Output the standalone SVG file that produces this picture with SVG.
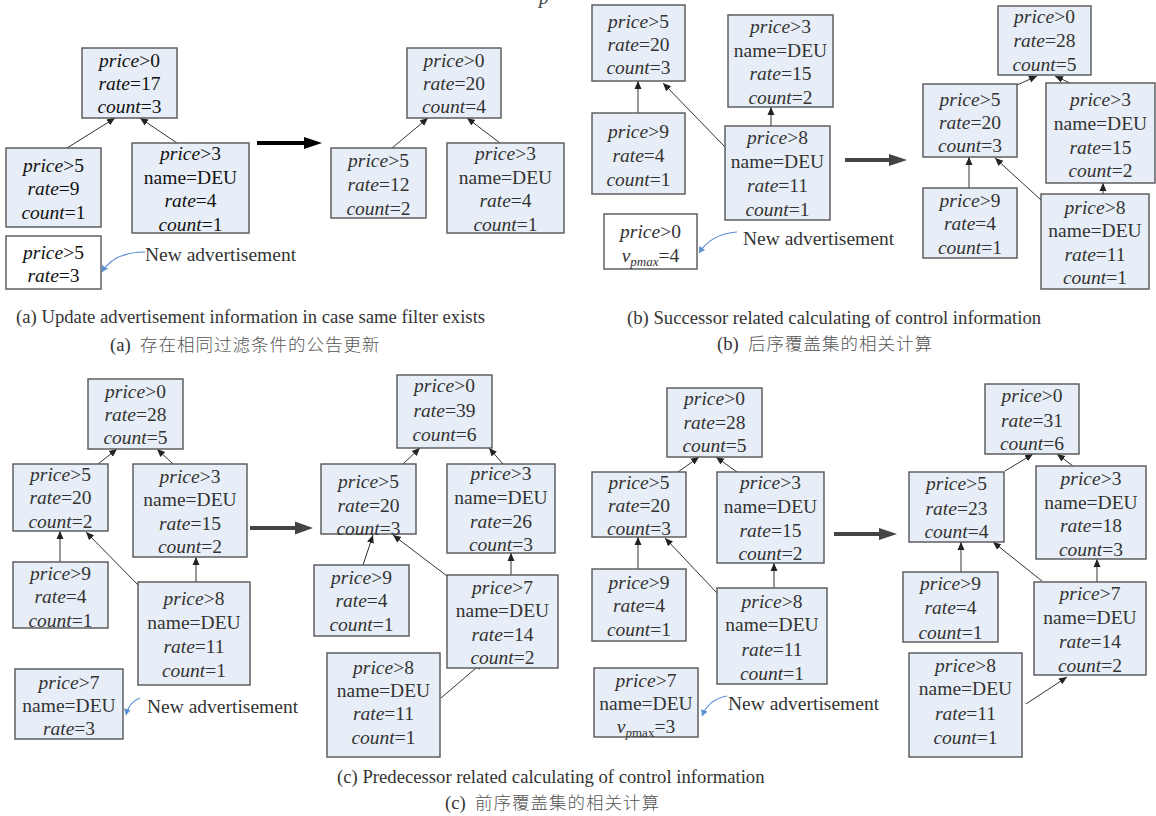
<svg xmlns="http://www.w3.org/2000/svg" width="1156" height="816" viewBox="0 0 1156 816">
<style>
.n rect{fill:#e8eef7;stroke:#555;stroke-width:1.4}
.w rect{fill:#fff;stroke:#555;stroke-width:1.4}
text{font-family:"Liberation Serif","Times New Roman",serif}
.n text,.w text{font-size:19.5px;text-anchor:middle;fill:#333}
.k text{fill:#111}
.i{font-style:italic}
.lbl{font-size:19.5px;fill:#333}
.cap{font-size:18.7px;fill:#333}
.cjk{font-family:"Noto Sans CJK SC",sans-serif;font-size:17.5px;font-weight:300;letter-spacing:1px;fill:#555}
.c line{stroke:#333;stroke-width:1;marker-end:url(#ah)}
.b path{fill:none;stroke:#5b8fd4;stroke-width:1.2;marker-end:url(#bh)}
</style>
<defs>
<marker id="ah" markerUnits="userSpaceOnUse" markerWidth="10" markerHeight="8" refX="8" refY="4" orient="auto"><path d="M0,0.5 L8,4 L0,7.5 Z" fill="#222"/></marker>
<marker id="bh" markerUnits="userSpaceOnUse" markerWidth="8" markerHeight="8" refX="6" refY="3.5" orient="auto"><path d="M0,0 L6,3.5 L0,7 Z" fill="#5b8fd4"/></marker>
</defs>
<rect width="1156" height="816" fill="#fff"/>
<text x="539" y="4" class="i" font-size="19.5" fill="#444">p</text>

<!-- connectors -->
<g id="connectors">
<g class="c">
<line x1="67" y1="148" x2="115" y2="118"/>
<line x1="177" y1="143" x2="140" y2="118"/>
<line x1="392" y1="148" x2="428" y2="118"/>
<line x1="500" y1="143" x2="467" y2="118"/>
<line x1="638" y1="113" x2="638" y2="81"/>
<line x1="725" y1="147" x2="663" y2="83"/>
<line x1="771" y1="126" x2="771" y2="107"/>
<line x1="1017" y1="85" x2="1037" y2="76"/>
<line x1="1070" y1="83" x2="1055" y2="76"/>
<line x1="969" y1="188" x2="969" y2="157"/>
<line x1="1041" y1="200" x2="995" y2="158"/>
<line x1="1103" y1="194" x2="1103" y2="183"/>
<line x1="98" y1="464" x2="117" y2="449"/>
<line x1="173" y1="464" x2="157" y2="449"/>
<line x1="60" y1="562" x2="60" y2="531"/>
<line x1="138" y1="585" x2="86" y2="532"/>
<line x1="196" y1="582" x2="196" y2="557"/>
<line x1="403" y1="464" x2="420" y2="448"/>
<line x1="503" y1="464" x2="489" y2="448"/>
<line x1="363" y1="565" x2="373" y2="535"/>
<line x1="447" y1="576" x2="393" y2="535"/>
<line x1="511" y1="575" x2="511" y2="553"/>
<line x1="441" y1="698" x2="483" y2="662"/>
<line x1="678" y1="472" x2="699" y2="457"/>
<line x1="737" y1="472" x2="716" y2="457"/>
<line x1="638" y1="569" x2="638" y2="537"/>
<line x1="717" y1="593" x2="665" y2="538"/>
<line x1="774" y1="588" x2="774" y2="563"/>
<line x1="1005" y1="471" x2="1033" y2="454"/>
<line x1="1073" y1="466" x2="1057" y2="454"/>
<line x1="961" y1="572" x2="961" y2="542"/>
<line x1="1042" y1="581" x2="993" y2="542"/>
<line x1="1097" y1="582" x2="1097" y2="559"/>
<line x1="1026" y1="704" x2="1067" y2="677"/>
</g>
<g class="b">
<path d="M145,252 Q114,252 102,272"/>
<path d="M737,232 Q711,234 699,253"/>
<path d="M140,698 Q129,702 126,715"/>
<path d="M727,696 Q709,699 702,716"/>
</g>
<g id="bigarrows">
<line x1="257" y1="143" x2="305" y2="143" stroke="#000" stroke-width="4"/>
<polygon points="304,137 322,143 304,149" fill="#000"/>
<line x1="845" y1="160" x2="890" y2="160" stroke="#444" stroke-width="4"/>
<polygon points="889,154 907,160 889,166" fill="#444"/>
<line x1="250" y1="528" x2="296" y2="528" stroke="#444" stroke-width="4"/>
<polygon points="295,521.5 313,528 295,534.5" fill="#444"/>
<line x1="834" y1="534" x2="880" y2="534" stroke="#444" stroke-width="4"/>
<polygon points="879,528 897,534 879,540" fill="#444"/>
</g>
</g>

<!-- panel (a) -->
<g id="a1" class="n k"><rect x="82" y="48" width="95" height="70"/>
<text x="129.5" y="67"><tspan class="i">price</tspan>&gt;0</text>
<text x="129.5" y="90"><tspan class="i">rate</tspan>=17</text>
<text x="129.5" y="113"><tspan class="i">count</tspan>=3</text></g>
<g id="a2" class="n k"><rect x="6" y="148" width="95" height="79"/>
<text x="53.5" y="172"><tspan class="i">price</tspan>&gt;5</text>
<text x="53.5" y="195"><tspan class="i">rate</tspan>=9</text>
<text x="53.5" y="219"><tspan class="i">count</tspan>=1</text></g>
<g id="a3" class="n k"><rect x="132" y="143" width="117" height="90"/>
<text x="190.5" y="160"><tspan class="i">price</tspan>&gt;3</text>
<text x="190.5" y="184">name=DEU</text>
<text x="190.5" y="207"><tspan class="i">rate</tspan>=4</text>
<text x="190.5" y="231"><tspan class="i">count</tspan>=1</text></g>
<g id="a4" class="w k"><rect x="6" y="236" width="95" height="53"/>
<text x="53.5" y="259"><tspan class="i">price</tspan>&gt;5</text>
<text x="53.5" y="282"><tspan class="i">rate</tspan>=3</text></g>
<text class="lbl" x="145" y="261" fill="#222">New advertisement</text>
<g id="a5" class="n"><rect x="407" y="48" width="94" height="70"/>
<text x="454" y="67"><tspan class="i">price</tspan>&gt;0</text>
<text x="454" y="90"><tspan class="i">rate</tspan>=20</text>
<text x="454" y="113"><tspan class="i">count</tspan>=4</text></g>
<g id="a6" class="n"><rect x="331" y="148" width="95" height="70"/>
<text x="378.5" y="167"><tspan class="i">price</tspan>&gt;5</text>
<text x="378.5" y="191"><tspan class="i">rate</tspan>=12</text>
<text x="378.5" y="215"><tspan class="i">count</tspan>=2</text></g>
<g id="a7" class="n"><rect x="447" y="143" width="117" height="90"/>
<text x="505.5" y="160"><tspan class="i">price</tspan>&gt;3</text>
<text x="505.5" y="184">name=DEU</text>
<text x="505.5" y="207"><tspan class="i">rate</tspan>=4</text>
<text x="505.5" y="231"><tspan class="i">count</tspan>=1</text></g>
<text class="cap" x="16" y="323">(a) Update advertisement information in case same filter exists</text>
<text class="cap" x="110" y="351">(a)<tspan class="cjk" x="140">存在相同过滤条件的公告更新</tspan></text>

<!-- panel (b) -->
<g id="b1" class="n"><rect x="592" y="5" width="93" height="76"/>
<text x="638.5" y="28" fill="#111"><tspan class="i">price</tspan>&gt;5</text>
<text x="638.5" y="51" fill="#111"><tspan class="i">rate</tspan>=20</text>
<text x="638.5" y="74"><tspan class="i">count</tspan>=3</text></g>
<g id="b2" class="n"><rect x="728" y="15" width="105" height="92"/>
<text x="780.5" y="33"><tspan class="i">price</tspan>&gt;3</text>
<text x="780.5" y="57">name=DEU</text>
<text x="780.5" y="80"><tspan class="i">rate</tspan>=15</text>
<text x="780.5" y="104"><tspan class="i">count</tspan>=2</text></g>
<g id="b3" class="n"><rect x="592" y="113" width="93" height="81"/>
<text x="638.5" y="138"><tspan class="i">price</tspan>&gt;9</text>
<text x="638.5" y="162"><tspan class="i">rate</tspan>=4</text>
<text x="638.5" y="186"><tspan class="i">count</tspan>=1</text></g>
<g id="b4" class="n"><rect x="725" y="126" width="105" height="94"/>
<text x="777.5" y="144"><tspan class="i">price</tspan>&gt;8</text>
<text x="777.5" y="168">name=DEU</text>
<text x="777.5" y="192"><tspan class="i">rate</tspan>=11</text>
<text x="777.5" y="216"><tspan class="i">count</tspan>=1</text></g>
<g id="b5" class="w"><rect x="604" y="214" width="93" height="55"/>
<text x="650.5" y="238"><tspan class="i">price</tspan>&gt;0</text>
<text x="650.5" y="262"><tspan class="i">v</tspan><tspan class="i" font-size="13" dy="4">pmax</tspan><tspan dy="-4">=4</tspan></text></g>
<text class="lbl" x="743" y="245">New advertisement</text>
<g id="b6" class="n"><rect x="998" y="6" width="93" height="69"/>
<text x="1044.5" y="23"><tspan class="i">price</tspan>&gt;0</text>
<text x="1044.5" y="47"><tspan class="i">rate</tspan>=28</text>
<text x="1044.5" y="71"><tspan class="i">count</tspan>=5</text></g>
<g id="b7" class="n"><rect x="923" y="84" width="94" height="73"/>
<text x="970" y="106"><tspan class="i">price</tspan>&gt;5</text>
<text x="970" y="129"><tspan class="i">rate</tspan>=20</text>
<text x="970" y="152"><tspan class="i">count</tspan>=3</text></g>
<g id="b8" class="n"><rect x="1046" y="83" width="109" height="100"/>
<text x="1100.5" y="106"><tspan class="i">price</tspan>&gt;3</text>
<text x="1100.5" y="130">name=DEU</text>
<text x="1100.5" y="154"><tspan class="i">rate</tspan>=15</text>
<text x="1100.5" y="177"><tspan class="i">count</tspan>=2</text></g>
<g id="b9" class="n"><rect x="923" y="188" width="94" height="70"/>
<text x="970" y="207"><tspan class="i">price</tspan>&gt;9</text>
<text x="970" y="230"><tspan class="i">rate</tspan>=4</text>
<text x="970" y="254"><tspan class="i">count</tspan>=1</text></g>
<g id="b10" class="n"><rect x="1041" y="194" width="108" height="95"/>
<text x="1095" y="214"><tspan class="i">price</tspan>&gt;8</text>
<text x="1095" y="237">name=DEU</text>
<text x="1095" y="261"><tspan class="i">rate</tspan>=11</text>
<text x="1095" y="284"><tspan class="i">count</tspan>=1</text></g>
<text class="cap" x="627" y="324">(b) Successor related calculating of control information</text>
<text class="cap" x="717" y="350">(b)<tspan class="cjk" x="748">后序覆盖集的相关计算</tspan></text>

<!-- panel (c) left pair -->
<g id="c1" class="n"><rect x="88" y="379" width="95" height="70"/>
<text x="135.5" y="398"><tspan class="i">price</tspan>&gt;0</text>
<text x="135.5" y="421"><tspan class="i">rate</tspan>=28</text>
<text x="135.5" y="444"><tspan class="i">count</tspan>=5</text></g>
<g id="c2" class="n"><rect x="13" y="464" width="95" height="67"/>
<text x="60.5" y="481"><tspan class="i">price</tspan>&gt;5</text>
<text x="60.5" y="504"><tspan class="i">rate</tspan>=20</text>
<text x="60.5" y="528"><tspan class="i">count</tspan>=2</text></g>
<g id="c3" class="n"><rect x="133" y="464" width="114" height="93"/>
<text x="190" y="483"><tspan class="i">price</tspan>&gt;3</text>
<text x="190" y="506">name=DEU</text>
<text x="190" y="530"><tspan class="i">rate</tspan>=15</text>
<text x="190" y="553"><tspan class="i">count</tspan>=2</text></g>
<g id="c4" class="n"><rect x="13" y="562" width="95" height="66"/>
<text x="60.5" y="580"><tspan class="i">price</tspan>&gt;9</text>
<text x="60.5" y="603"><tspan class="i">rate</tspan>=4</text>
<text x="60.5" y="627"><tspan class="i">count</tspan>=1</text></g>
<g id="c5" class="n"><rect x="138" y="582" width="112" height="103"/>
<text x="194" y="605"><tspan class="i">price</tspan>&gt;8</text>
<text x="194" y="629">name=DEU</text>
<text x="194" y="653"><tspan class="i">rate</tspan>=11</text>
<text x="194" y="677"><tspan class="i">count</tspan>=1</text></g>
<g id="c6" class="n"><rect x="15" y="669" width="108" height="70"/>
<text x="69" y="689"><tspan class="i">price</tspan>&gt;7</text>
<text x="69" y="712">name=DEU</text>
<text x="69" y="735"><tspan class="i">rate</tspan>=3</text></g>
<text class="lbl" x="147" y="713">New advertisement</text>
<g id="c7" class="n"><rect x="397" y="375" width="95" height="73"/>
<text x="444.5" y="392"><tspan class="i">price</tspan>&gt;0</text>
<text x="444.5" y="417"><tspan class="i">rate</tspan>=39</text>
<text x="444.5" y="441"><tspan class="i">count</tspan>=6</text></g>
<g id="c8" class="n"><rect x="321" y="464" width="95" height="70"/>
<text x="368.5" y="488"><tspan class="i">price</tspan>&gt;5</text>
<text x="368.5" y="512"><tspan class="i">rate</tspan>=20</text>
<text x="368.5" y="535"><tspan class="i">count</tspan>=3</text></g>
<g id="c9" class="n"><rect x="447" y="464" width="108" height="89"/>
<text x="501" y="480"><tspan class="i">price</tspan>&gt;3</text>
<text x="501" y="504">name=DEU</text>
<text x="501" y="528"><tspan class="i">rate</tspan>=26</text>
<text x="501" y="551"><tspan class="i">count</tspan>=3</text></g>
<g id="c10" class="n"><rect x="314" y="565" width="95" height="71"/>
<text x="361.5" y="584"><tspan class="i">price</tspan>&gt;9</text>
<text x="361.5" y="607"><tspan class="i">rate</tspan>=4</text>
<text x="361.5" y="631"><tspan class="i">count</tspan>=1</text></g>
<g id="c11" class="n"><rect x="447" y="575" width="111" height="93"/>
<text x="502.5" y="594"><tspan class="i">price</tspan>&gt;7</text>
<text x="502.5" y="617">name=DEU</text>
<text x="502.5" y="641"><tspan class="i">rate</tspan>=14</text>
<text x="502.5" y="664"><tspan class="i">count</tspan>=2</text></g>
<g id="c12" class="n"><rect x="327" y="653" width="113" height="104"/>
<text x="383.5" y="674"><tspan class="i">price</tspan>&gt;8</text>
<text x="383.5" y="697">name=DEU</text>
<text x="383.5" y="720"><tspan class="i">rate</tspan>=11</text>
<text x="383.5" y="744"><tspan class="i">count</tspan>=1</text></g>

<!-- panel (c) right pair -->
<g id="d1" class="n"><rect x="667" y="388" width="95" height="69"/>
<text x="714.5" y="405"><tspan class="i">price</tspan>&gt;0</text>
<text x="714.5" y="429"><tspan class="i">rate</tspan>=28</text>
<text x="714.5" y="452"><tspan class="i">count</tspan>=5</text></g>
<g id="d2" class="n"><rect x="592" y="472" width="94" height="65"/>
<text x="639" y="489"><tspan class="i">price</tspan>&gt;5</text>
<text x="639" y="512"><tspan class="i">rate</tspan>=20</text>
<text x="639" y="535"><tspan class="i">count</tspan>=3</text></g>
<g id="d3" class="n"><rect x="717" y="472" width="107" height="91"/>
<text x="770.5" y="489"><tspan class="i">price</tspan>&gt;3</text>
<text x="770.5" y="513">name=DEU</text>
<text x="770.5" y="537"><tspan class="i">rate</tspan>=15</text>
<text x="770.5" y="560"><tspan class="i">count</tspan>=2</text></g>
<g id="d4" class="n"><rect x="592" y="569" width="94" height="72"/>
<text x="639" y="589"><tspan class="i">price</tspan>&gt;9</text>
<text x="639" y="612"><tspan class="i">rate</tspan>=4</text>
<text x="639" y="636"><tspan class="i">count</tspan>=1</text></g>
<g id="d5" class="n"><rect x="717" y="588" width="110" height="96"/>
<text x="772" y="608"><tspan class="i">price</tspan>&gt;8</text>
<text x="772" y="631">name=DEU</text>
<text x="772" y="656"><tspan class="i">rate</tspan>=11</text>
<text x="772" y="680"><tspan class="i">count</tspan>=1</text></g>
<g id="d6" class="n"><rect x="594" y="668" width="104" height="69"/>
<text x="646" y="687"><tspan class="i">price</tspan>&gt;7</text>
<text x="646" y="710">name=DEU</text>
<text x="646" y="733"><tspan class="i">v</tspan><tspan font-size="13" dy="4"><tspan class="i">p</tspan>max</tspan><tspan dy="-4">=3</tspan></text></g>
<text class="lbl" x="728" y="710">New advertisement</text>
<g id="d7" class="n"><rect x="985" y="384" width="94" height="70"/>
<text x="1032" y="402"><tspan class="i">price</tspan>&gt;0</text>
<text x="1032" y="427"><tspan class="i">rate</tspan>=31</text>
<text x="1032" y="450"><tspan class="i">count</tspan>=6</text></g>
<g id="d8" class="n"><rect x="909" y="472" width="95" height="70"/>
<text x="956.5" y="490"><tspan class="i">price</tspan>&gt;5</text>
<text x="956.5" y="515"><tspan class="i">rate</tspan>=23</text>
<text x="956.5" y="538"><tspan class="i">count</tspan>=4</text></g>
<g id="d9" class="n"><rect x="1036" y="466" width="110" height="93"/>
<text x="1091" y="485"><tspan class="i">price</tspan>&gt;3</text>
<text x="1091" y="509">name=DEU</text>
<text x="1091" y="532"><tspan class="i">rate</tspan>=18</text>
<text x="1091" y="556"><tspan class="i">count</tspan>=3</text></g>
<g id="d10" class="n"><rect x="903" y="572" width="95" height="70"/>
<text x="950.5" y="590"><tspan class="i">price</tspan>&gt;9</text>
<text x="950.5" y="614"><tspan class="i">rate</tspan>=4</text>
<text x="950.5" y="639"><tspan class="i">count</tspan>=1</text></g>
<g id="d11" class="n"><rect x="1034" y="582" width="112" height="93"/>
<text x="1090" y="600"><tspan class="i">price</tspan>&gt;7</text>
<text x="1090" y="624">name=DEU</text>
<text x="1090" y="648"><tspan class="i">rate</tspan>=14</text>
<text x="1090" y="672" fill="#111"><tspan class="i">count</tspan>=2</text></g>
<g id="d12" class="n"><rect x="909" y="653" width="113" height="104"/>
<text x="965.5" y="672"><tspan class="i">price</tspan>&gt;8</text>
<text x="965.5" y="695">name=DEU</text>
<text x="965.5" y="720" fill="#111"><tspan class="i">rate</tspan>=11</text>
<text x="965.5" y="744" fill="#111"><tspan class="i">count</tspan>=1</text></g>
<text class="cap" x="337" y="783">(c) Predecessor related calculating of control information</text>
<text class="cap" x="445" y="809">(c)<tspan class="cjk" x="475">前序覆盖集的相关计算</tspan></text>
</svg>
